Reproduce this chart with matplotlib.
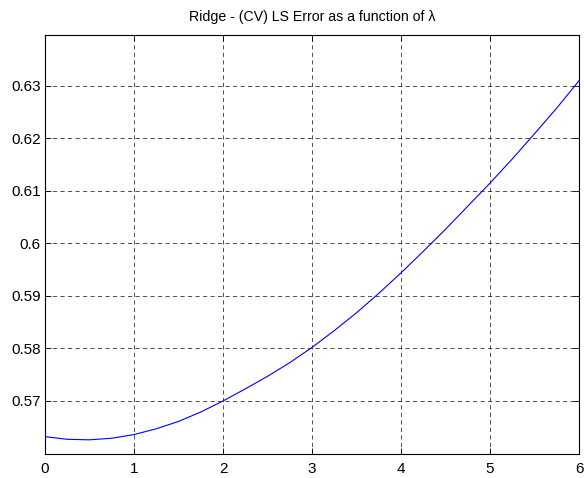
import matplotlib
matplotlib.use("Agg")
import matplotlib.pyplot as plt

# Cross-validated least-squares error of ridge regression vs. regularisation strength
lam = [0.0, 0.25, 0.5, 0.75, 1.0, 1.25, 1.5, 1.75, 2.0, 2.25, 2.5, 2.75,
       3.0, 3.25, 3.5, 3.75, 4.0, 4.25, 4.5, 4.75, 5.0, 5.25, 5.5, 5.75, 6.0]
cv_error = [0.5632, 0.5627, 0.5626, 0.5629, 0.5636, 0.5647, 0.5661, 0.5679,
            0.5700, 0.5723, 0.5747, 0.5773, 0.5802, 0.5834, 0.5868, 0.5905,
            0.5944, 0.5985, 0.6027, 0.6071, 0.6115, 0.6161, 0.6209, 0.6258,
            0.6310]
x_ticks = [0, 1, 2, 3, 4, 5, 6]
y_ticks = [0.57, 0.58, 0.59, 0.60, 0.61, 0.62, 0.63]
y_tick_labels = ["0.57", "0.58", "0.59", "0.6", "0.61", "0.62", "0.63"]

plt.rcParams["font.family"] = ["Liberation Sans", "DejaVu Sans"]

fig = plt.figure(figsize=(5.84, 4.78), dpi=100)
ax = fig.add_axes([45 / 584, 1 - 454 / 478, 534 / 584, (454 - 34.7) / 478])

ax.plot(lam, cv_error, color=(0, 0, 1), linewidth=0.8)

ax.set_xlim(0, 6)
ax.set_ylim(0.55990, 0.63977)
ax.set_xticks(x_ticks)
ax.set_xticklabels([str(t) for t in x_ticks])
ax.set_yticks(y_ticks)
ax.set_yticklabels(y_tick_labels)

ax.grid(True, color="black", linestyle=(0, (5, 4)), linewidth=0.6, alpha=0.8)
ax.tick_params(direction="in", length=4, width=0.6, labelsize=11,
               top=True, right=True, colors="black")
ax.tick_params(axis="x", pad=6)
ax.tick_params(axis="y", pad=3)
for s in ax.spines.values():
    s.set_linewidth(0.8)

ax.set_title("Ridge - (CV) LS Error as a function of \u03bb", fontsize=10.2, pad=10)

fig.savefig("out.png", dpi=100, facecolor="white")
